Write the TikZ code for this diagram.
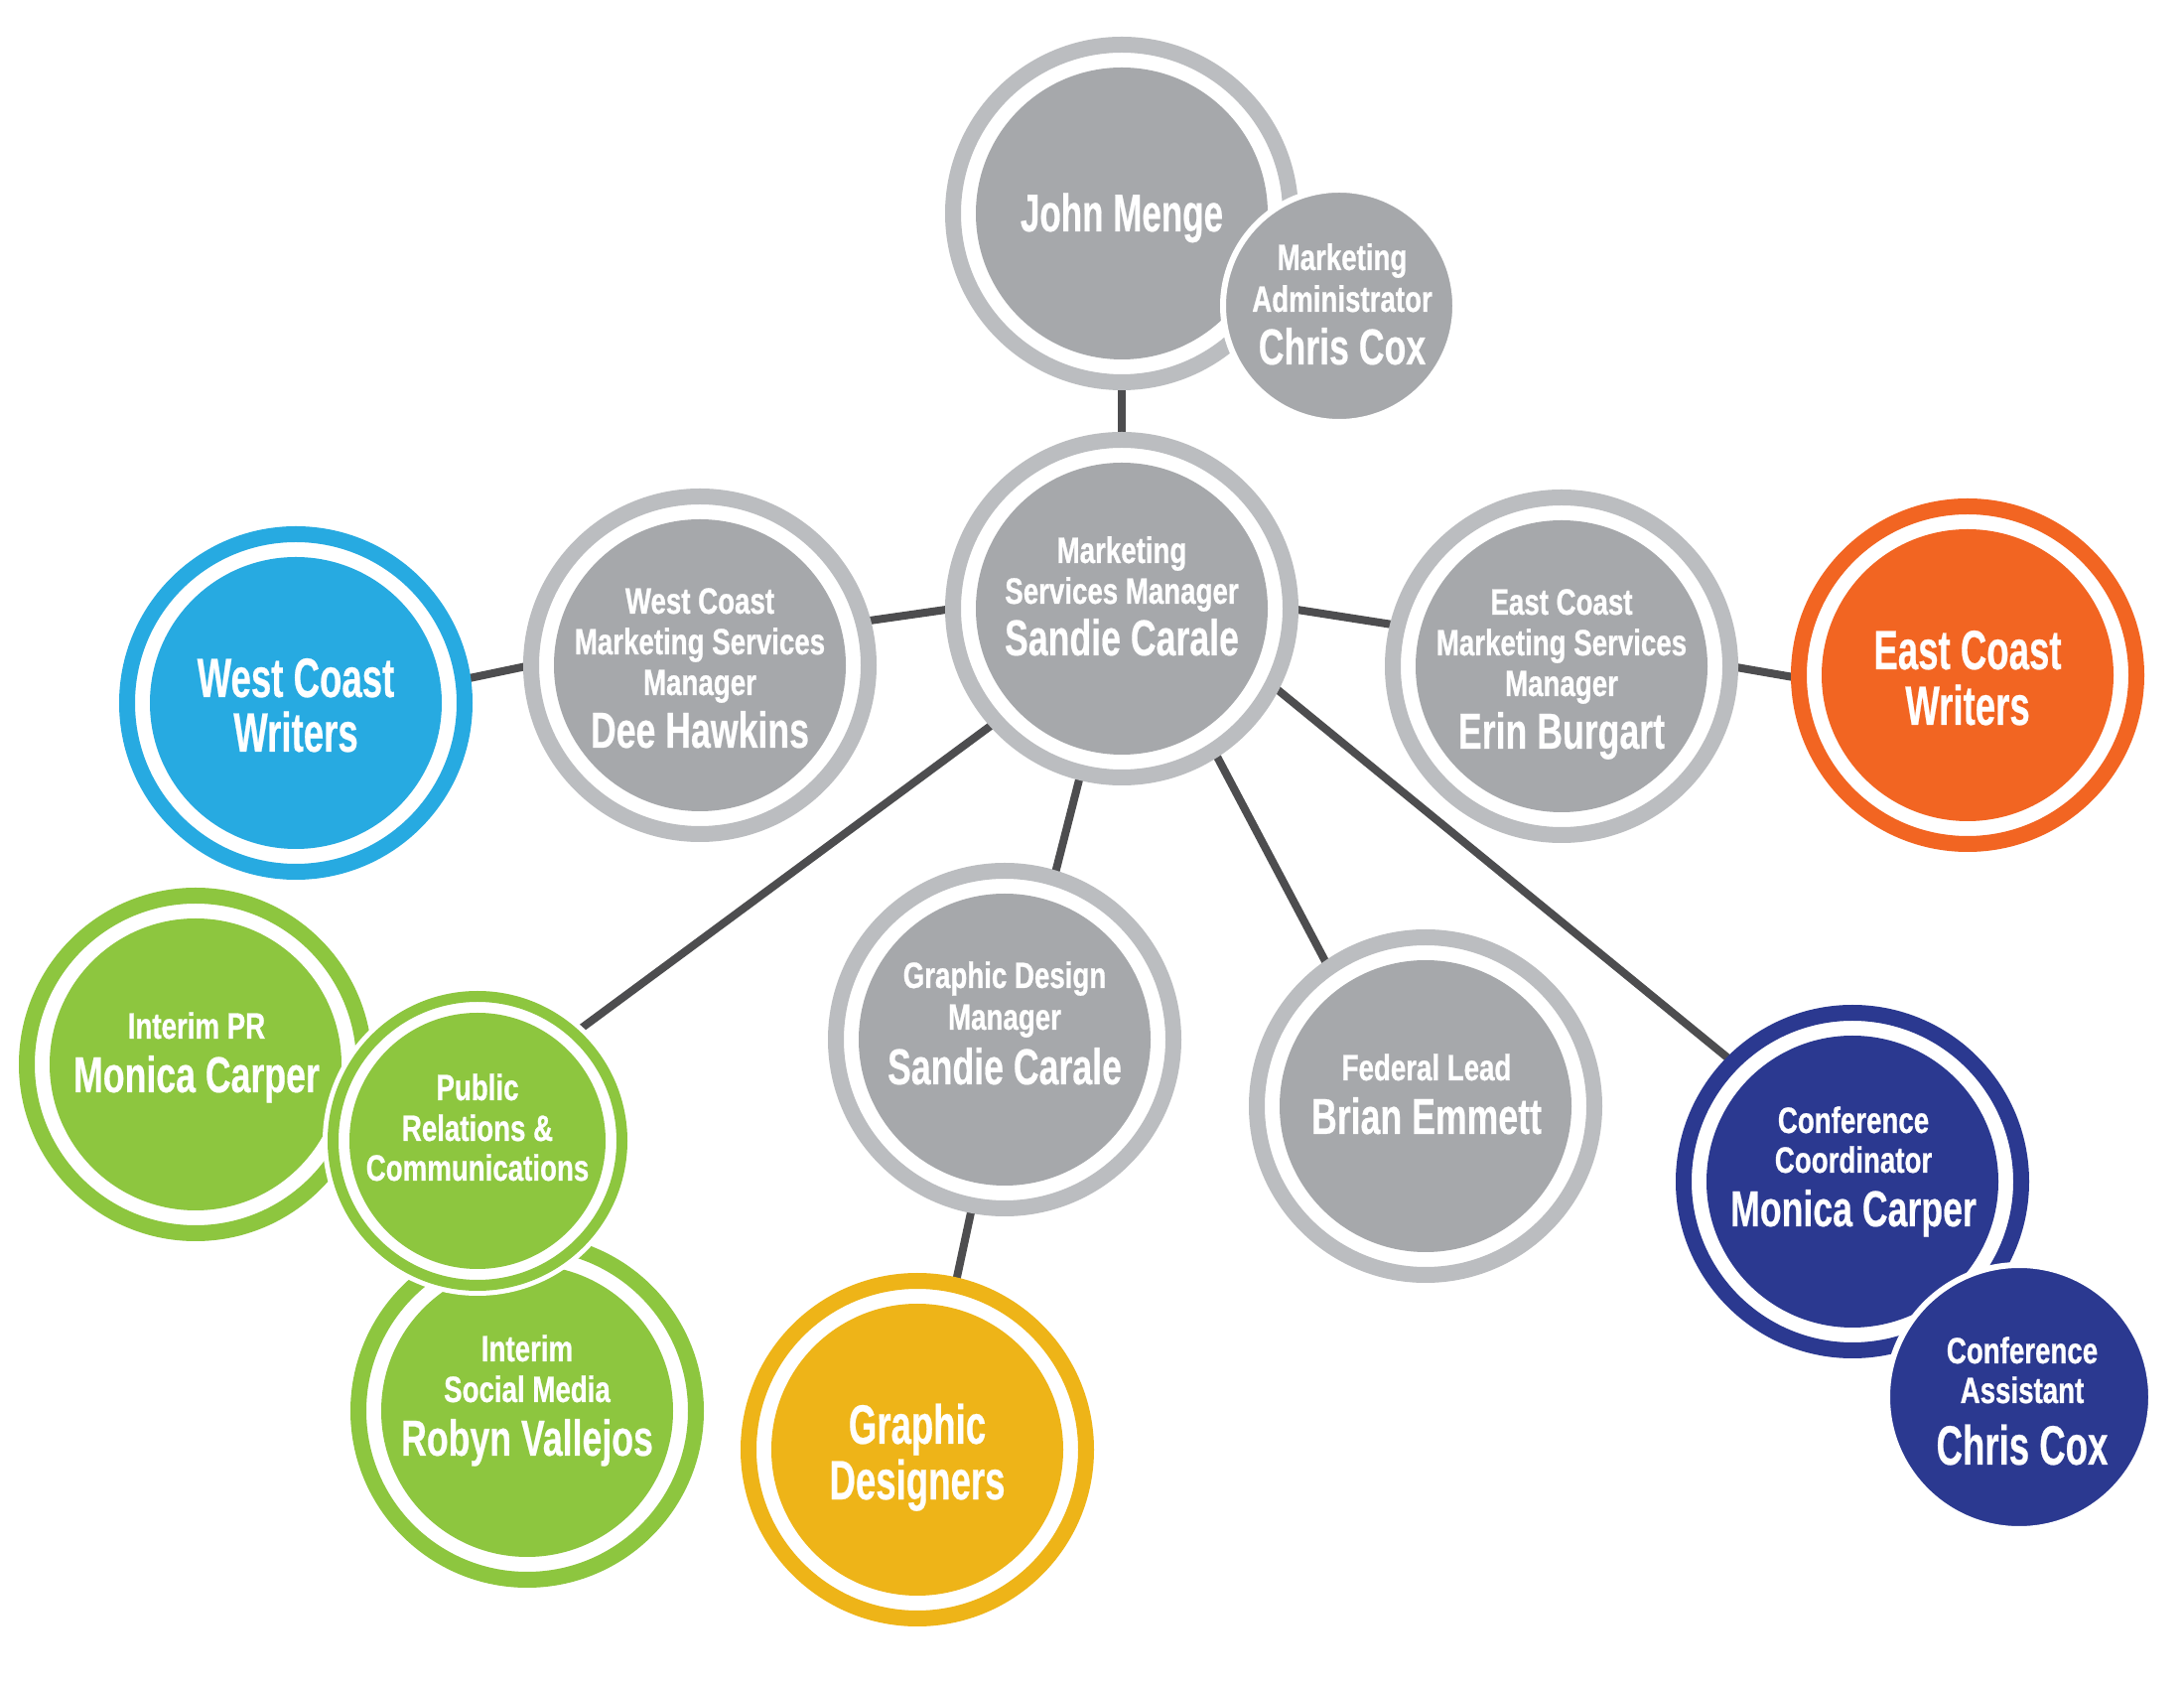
\documentclass[tikz,border=0pt]{standalone}
\usepackage{fontspec}
\newfontfamily\cfs{Liberation Sans}[FakeStretch=0.75,FakeBold=0.7]
\newfontfamily\cfl{Liberation Sans}[FakeStretch=0.70,FakeBold=0.4]
\newfontfamily\cfx{Liberation Sans}[FakeStretch=0.655,FakeBold=0.4]
\usetikzlibrary{backgrounds}
\definecolor{gfill}{HTML}{A6A8AB}
\definecolor{gring}{HTML}{BBBDC0}
\definecolor{cblue}{HTML}{27AAE1}
\definecolor{corange}{HTML}{F26522}
\definecolor{cgreen}{HTML}{8DC63F}
\definecolor{cyellow}{HTML}{EEB418}
\definecolor{cnavy}{HTML}{2B3990}
\definecolor{conncol}{HTML}{4D4D4F}
\begin{document}
\begin{tikzpicture}[x=0.1mm,y=-0.1mm,
  ringc/.style 2 args={circle, minimum size=34mm, inner sep=0pt, outer sep=0pt,
    line width=1.6mm, draw=#2, fill=white,
    path picture={\fill[#1] (path picture bounding box.center) circle (14.7mm);}},
  smallring/.style={circle, minimum size=29.1mm, inner sep=0pt, outer sep=0pt,
    preaction={draw=white, line width=2.1mm},
    line width=1.1mm, draw=#1, fill=white,
    path picture={\fill[#1] (path picture bounding box.center) circle (12.9mm);}},
  solidc/.style={circle, minimum size=23.4mm, inner sep=0pt, outer sep=0pt,
    fill=#1, draw=white, line width=0.6mm},
  conn/.style={draw=conncol, line width=0.8mm},
  tsm/.style={font=\cfs\bfseries\fontsize{10.5}{12}\selectfont, text=white, inner sep=0pt, anchor=base},
  tlg/.style={font=\cfl\bfseries\fontsize{14.5}{16}\selectfont, text=white, inner sep=0pt, anchor=base},
  txl/.style={font=\cfx\bfseries\fontsize{15.9}{18}\selectfont, text=white, inner sep=0pt, anchor=base}
]
\useasboundingbox (0,0) rectangle (2200,1700);

% circles
\node[ringc={gfill}{gring}] (jm) at (1130,215) {};
\node[solidc=gfill] (cc1) at (1349,308) {};
\node[ringc={gfill}{gring}] (sc) at (1130,613) {};
\node[ringc={gfill}{gring}] (wcm) at (705,670) {};
\node[ringc={cblue}{cblue}] (wcw) at (298,708) {};
\node[ringc={gfill}{gring}] (ecm) at (1573,671) {};
\node[ringc={corange}{corange}] (ecw) at (1982,680) {};
\node[ringc={gfill}{gring}] (gdm) at (1012,1047) {};
\node[ringc={gfill}{gring}] (fl) at (1436,1114) {};
\node[ringc={cnavy}{cnavy}] (cco) at (1866,1190) {};
\node[solidc=cnavy, minimum size=26.6mm] (ca) at (2034,1407) {};
\node[ringc={cyellow}{cyellow}] (gd) at (924,1460) {};
\node[ringc={cgreen}{cgreen}] (ipr) at (197,1072) {};
\node[ringc={cgreen}{cgreen}] (ism) at (531,1421) {};
\node[smallring=cgreen] (prc) at (481,1149) {};

% texts
\node[txl, font=\cfx\bfseries\fontsize{15.2}{17}\selectfont] (jm-1) at (1130,233) {John Menge};

\node[tsm] (cc1-1) at (1352,272) {Marketing};
\node[tsm] (cc1-2) at (1352,314) {Administrator};
\node[tlg] (cc1-3) at (1352,367) {Chris Cox};

\node[tsm] (sc-1) at (1130,567) {Marketing};
\node[tsm] (sc-2) at (1130,608) {Services Manager};
\node[tlg] (sc-3) at (1130,660) {Sandie Carale};

\node[tsm] (wcm-1) at (705,618) {West Coast};
\node[tsm] (wcm-2) at (705,659) {Marketing Services};
\node[tsm] (wcm-3) at (705,700) {Manager};
\node[tlg] (wcm-4) at (705,753) {Dee Hawkins};

\node[txl] (wcw-1) at (298,702) {West Coast};
\node[txl] (wcw-2) at (298,757) {Writers};

\node[tsm] (ecm-1) at (1573,619) {East Coast};
\node[tsm] (ecm-2) at (1573,660) {Marketing Services};
\node[tsm] (ecm-3) at (1573,701) {Manager};
\node[tlg] (ecm-4) at (1573,754) {Erin Burgart};

\node[txl] (ecw-1) at (1982,674) {East Coast};
\node[txl] (ecw-2) at (1982,730) {Writers};

\node[tsm] (gdm-1) at (1012,995) {Graphic Design};
\node[tsm] (gdm-2) at (1012,1037) {Manager};
\node[tlg] (gdm-3) at (1012,1092) {Sandie Carale};

\node[tsm] (fl-1) at (1437,1088) {Federal Lead};
\node[tlg] (fl-2) at (1437,1142) {Brian Emmett};

\node[tsm] (cco-1) at (1867,1141) {Conference};
\node[tsm] (cco-2) at (1867,1181) {Coordinator};
\node[tlg] (cco-3) at (1867,1235) {Monica Carper};

\node[tsm] (ca-1) at (2037,1373) {Conference};
\node[tsm] (ca-2) at (2037,1413) {Assistant};
\node[txl] (ca-3) at (2037,1475) {Chris Cox};

\node[txl] (gd-1) at (924,1454) {Graphic};
\node[txl] (gd-2) at (924,1510) {Designers};

\node[tsm] (ipr-1) at (198,1046) {Interim PR};
\node[tlg] (ipr-2) at (198,1100) {Monica Carper};

\node[tsm] (prc-1) at (481,1108) {Public};
\node[tsm] (prc-2) at (481,1149) {Relations \&};
\node[tsm] (prc-3) at (481,1189) {Communications};

\node[tsm] (ism-1) at (531,1371) {Interim};
\node[tsm] (ism-2) at (531,1412) {Social Media};
\node[tlg] (ism-3) at (531,1466) {Robyn Vallejos};

% connectors
\begin{pgfonlayer}{background}
\fill[white] (0,0) rectangle (2200,1700);
\draw[conn] (jm.south) -- (sc.north);
\draw[conn] (sc.180) -- (wcm.15);
\draw[conn] (wcm.180) -- (wcw.8);
\draw[conn] (sc.0) -- (ecm.166);
\draw[conn] (ecm.0) -- (ecw.181);
\draw[conn] (sc.256) -- (gdm.73);
\draw[conn] (gdm.259) -- (gd.77);
\draw[conn] (sc.303) -- (fl.125);
\draw[conn] (sc.333) -- (cco.135);
\draw[conn] (sc.222) -- (prc.48);
\end{pgfonlayer}
\end{tikzpicture}
\end{document}
